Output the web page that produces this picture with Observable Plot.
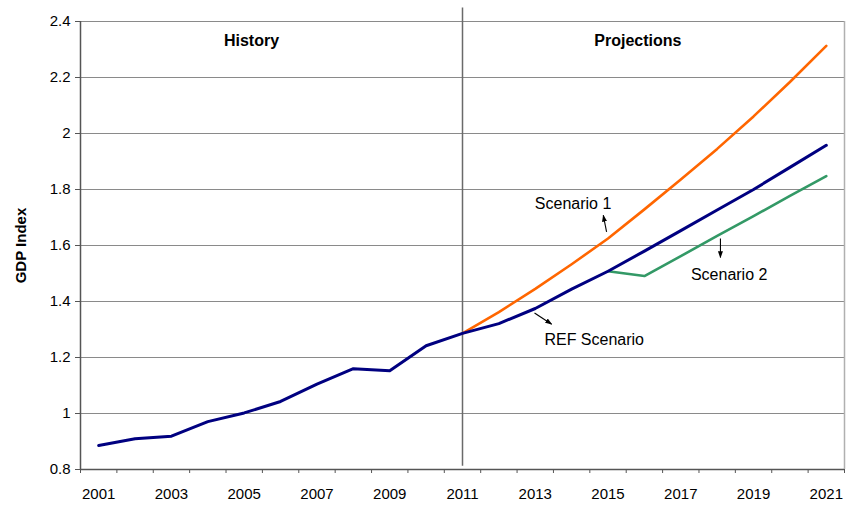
<!DOCTYPE html>
<html><head><meta charset="utf-8">
<script src="https://cdn.jsdelivr.net/npm/d3@7"></script>
<script src="https://cdn.jsdelivr.net/npm/@observablehq/plot@0.6"></script>
<style>html,body{margin:0;padding:0;background:#fff;} svg{display:block}</style>
</head><body><div id="chart"></div>
<script>
// ---- data ----
const years = [2001,2002,2003,2004,2005,2006,2007,2008,2009,2010,2011,2012,2013,2014,2015,2016,2017,2018,2019,2020,2021];
const refScenario = [0.886,0.910,0.919,0.971,1.002,1.043,1.105,1.160,1.153,1.242,1.286,1.321,1.375,1.444,1.508,1.580,1.653,1.727,1.800,1.879,1.958];
const scenario1Years = [2011,2012,2013,2014,2015,2016,2017,2018,2019,2020,2021];
const scenario1 = [1.286,1.362,1.445,1.533,1.625,1.729,1.836,1.945,2.061,2.184,2.313];
const scenario2Years = [2015,2016,2017,2018,2019,2020,2021];
const scenario2 = [1.508,1.491,1.562,1.634,1.705,1.777,1.848];
const yTicks = [0.8,1.0,1.2,1.4,1.6,1.8,2.0,2.2,2.4];
const xLabelYears = [2001,2003,2005,2007,2009,2011,2013,2015,2017,2019,2021];
const dividerYear = 2011;
const sectionLabels = [{x: 2005.2, y: 2.33, text: "History"}, {x: 2015.82, y: 2.33, text: "Projections"}];
const seriesLabels = [
  {x: 2014.04, y: 1.750, text: "Scenario 1"},
  {x: 2018.33, y: 1.494, text: "Scenario 2"},
  {x: 2014.62, y: 1.264, text: "REF Scenario"}
];
const pointers = [
  {x1: 2014.96, y1: 1.649, x2: 2014.87, y2: 1.708},
  {x1: 2018.09, y1: 1.625, x2: 2018.09, y2: 1.557},
  {x1: 2012.98, y1: 1.359, x2: 2013.45, y2: 1.319}
];

// ---- tables ----
const refData = years.map((x, i) => ({x, y: refScenario[i]}));
const s1Data = scenario1Years.map((x, i) => ({x, y: scenario1[i]}));
const s2Data = scenario2Years.map((x, i) => ({x, y: scenario2[i]}));
const boundaries = years.map(y => y - 0.5).concat([years[years.length - 1] + 0.5]);
const xDomain = [boundaries[0], boundaries[boundaries.length - 1]];
const yDomain = [yTicks[0], yTicks[yTicks.length - 1]];
const fmt = d => String(+d.toFixed(1));

function triangleMarker(color) {
  const m = document.createElementNS("http://www.w3.org/2000/svg", "marker");
  m.setAttribute("viewBox", "-5 -5 10 10");
  m.setAttribute("markerWidth", "7");
  m.setAttribute("markerHeight", "7");
  m.setAttribute("markerUnits", "userSpaceOnUse");
  m.setAttribute("refX", "4");
  m.setAttribute("refY", "0");
  m.setAttribute("orient", "auto");
  const p = document.createElementNS("http://www.w3.org/2000/svg", "path");
  p.setAttribute("d", "M-5,-3.6L5,0L-5,3.6Z");
  p.setAttribute("fill", color);
  p.setAttribute("stroke", "none");
  m.appendChild(p);
  return m;
}

const chart = Plot.plot({
  width: 856,
  height: 505,
  marginLeft: 80,
  marginRight: 12,
  marginTop: 21,
  marginBottom: 36,
  style: {fontFamily: "'Liberation Sans', Arial, Helvetica, sans-serif", fontSize: "15px", background: "#fff", color: "#000", overflow: "visible"},
  x: {domain: xDomain},
  y: {domain: yDomain},
  marks: [
    Plot.ruleY(yTicks.slice(1), {stroke: "#8a8a8a", strokeWidth: 1}),
    Plot.ruleX([xDomain[1]], {stroke: "#b0b0b0", strokeWidth: 1.5}),
    Plot.ruleX([dividerYear], {y1: 0.812, y2: 2.448, stroke: "#6a6a6a", strokeWidth: 1.5}),
    Plot.line(s1Data, {x: "x", y: "y", stroke: "#FF6600", strokeWidth: 2.6}),
    Plot.line(s2Data, {x: "x", y: "y", stroke: "#339966", strokeWidth: 2.6}),
    Plot.line(refData, {x: "x", y: "y", stroke: "#000080", strokeWidth: 3}),
    Plot.ruleX([xDomain[0]], {stroke: "#555", strokeWidth: 1.5}),
    Plot.ruleY([yDomain[0]], {stroke: "#555", strokeWidth: 1.5}),
    Plot.axisY({ticks: yTicks, tickSize: 5, tickPadding: 5, tickFormat: fmt, label: null, stroke: "#555", fill: "#000", fontSize: 15}),
    Plot.axisX({ticks: boundaries, tickSize: 4, tickFormat: () => "", label: null, stroke: "#555"}),
    Plot.axisX({ticks: xLabelYears, tickSize: 0, tickPadding: 19, tickFormat: d => String(d), label: null, fill: "#000", fontSize: 15}),
    Plot.text(["GDP Index"], {frameAnchor: "left", textAnchor: "middle", dx: -59, rotate: -90, fontWeight: "bold", fontSize: 15, fill: "#000"}),
    Plot.text(sectionLabels, {x: "x", y: "y", text: "text", fontWeight: "bold", fontSize: 16, fill: "#000"}),
    Plot.text(seriesLabels, {x: "x", y: "y", text: "text", fontSize: 16, fill: "#000"}),
    Plot.link(pointers, {x1: "x1", y1: "y1", x2: "x2", y2: "y2", stroke: "#000", strokeWidth: 1.1, markerEnd: triangleMarker})
  ]
});
document.getElementById("chart").appendChild(chart);
</script>
</body></html>
